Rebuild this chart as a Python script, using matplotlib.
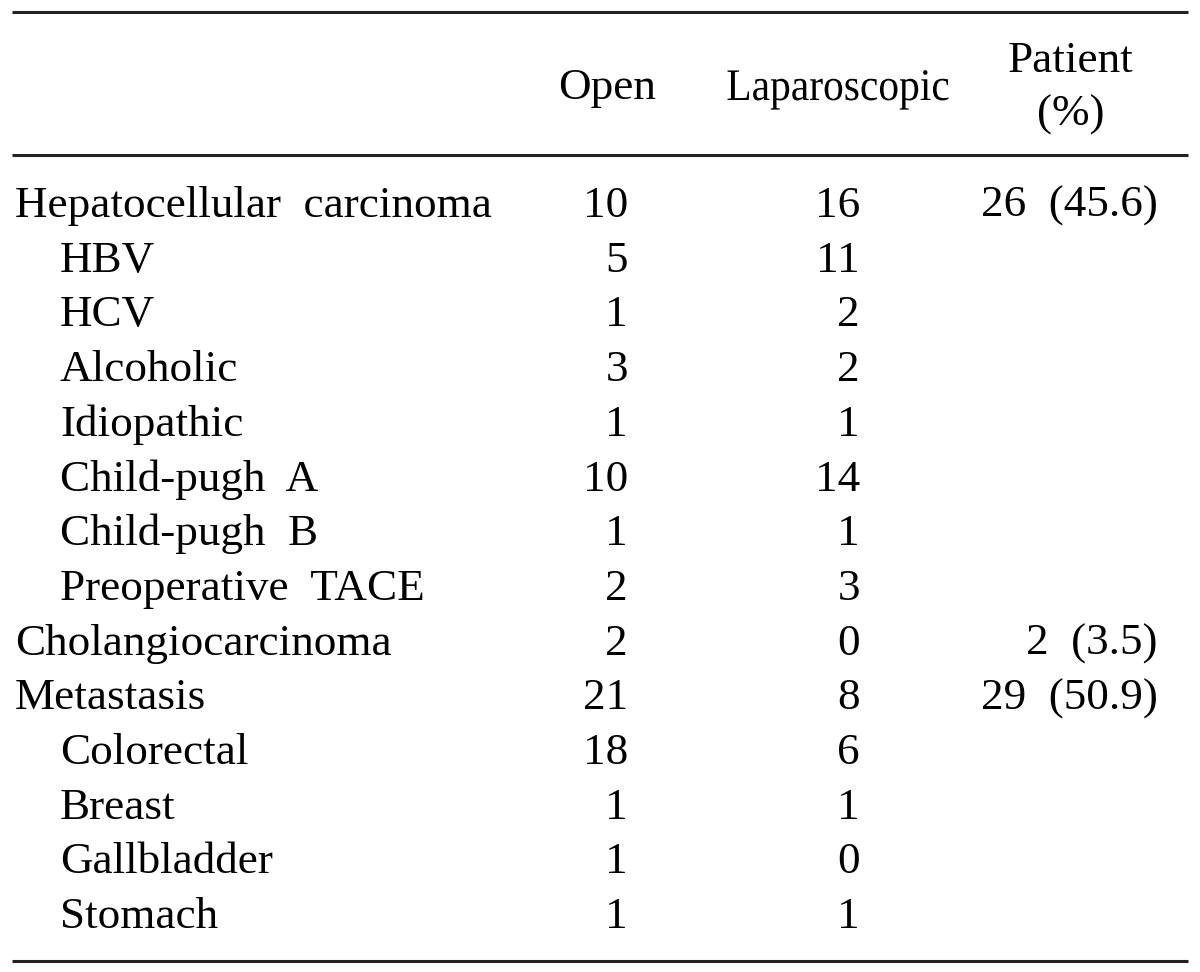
import matplotlib.pyplot as plt
from matplotlib.textpath import TextPath
from matplotlib.patches import PathPatch
from matplotlib.font_manager import FontProperties
from matplotlib.transforms import Affine2D

# table contents
labels = ["Hepatocellular  carcinoma", "HBV", "HCV", "Alcoholic", "Idiopathic",
          "Child-pugh  A", "Child-pugh  B", "Preoperative  TACE",
          "Cholangiocarcinoma", "Metastasis", "Colorectal", "Breast",
          "Gallbladder", "Stomach"]
indent = [0, 1, 1, 1, 1, 1, 1, 1, 0, 0, 1, 1, 1, 1]
open_n = [10, 5, 1, 3, 1, 10, 1, 2, 2, 21, 18, 1, 1, 1]
lap_n = [16, 11, 2, 2, 1, 14, 1, 3, 0, 8, 6, 1, 0, 1]
patient = ["26  (45.6)", "", "", "", "", "", "", "", "2  (3.5)", "29  (50.9)",
           "", "", "", ""]
headers = ["Open", "Laparoscopic", "Patient\n(%)"]

plt.rcParams['font.family'] = ['Liberation Serif', 'DejaVu Serif']
fs = 32.5

fig = plt.figure(figsize=(12, 9.72), dpi=100)
ax = fig.add_axes([0, 0, 1, 1])
ax.set_xlim(0, 1200)
ax.set_ylim(972, 0)
ax.axis('off')

# rules
for y in [12, 155, 961]:
    ax.plot([12, 1188], [y, y], color='#222222', lw=2.2, solid_capstyle='butt')

# header
ax.text(607, 88, headers[0], fontsize=fs, ha='center', va='center')
ax.text(1071, 88, headers[2], fontsize=fs, ha='center', va='center',
        linespacing=1.45)

# the "Laparoscopic" header is set condensed in the original
tp = TextPath((0, 0), headers[1], size=fs * 100 / 72,
              prop=FontProperties(family='Liberation Serif'))
ext = tp.get_extents()
sx = 221 / ext.width
tr = Affine2D().translate(-ext.x0 - ext.width / 2, 0).scale(sx, -1).translate(838, 100)
ax.add_patch(PathPatch(tr.transform_path(tp), facecolor='black', edgecolor='none'))

row0 = 217
step = 54.7
for i, lab in enumerate(labels):
    y = row0 + i * step
    ax.text(15 + 45 * indent[i], y, lab, fontsize=fs, ha='left', va='baseline')
    ax.text(628, y, str(open_n[i]), fontsize=fs, ha='right', va='baseline')
    ax.text(860, y, str(lap_n[i]), fontsize=fs, ha='right', va='baseline')
    if patient[i]:
        ax.text(1158, y, patient[i], fontsize=fs, ha='right', va='baseline')

fig.savefig('out.png', dpi=100)
